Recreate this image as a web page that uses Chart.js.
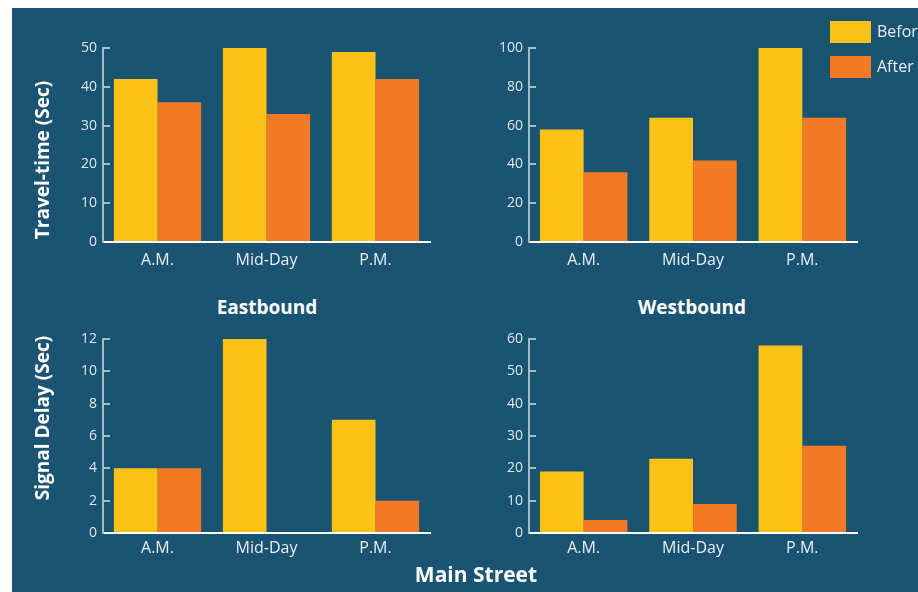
<!DOCTYPE html>
<html>
<head>
<meta charset="utf-8">
<script src="https://cdn.jsdelivr.net/npm/chart.js@4/dist/chart.umd.min.js"></script>
<style>
  html, body { margin: 0; padding: 0; background: #fff; overflow: hidden; }
  body { width: 918px; height: 592px; position: relative; font-family: 'Open Sans', sans-serif; }
  #panel { position: absolute; left: 12px; top: 8px; width: 906px; height: 584px; background: #1a5472; }
  .box { position: absolute; width: 400px; height: 241px; }
  .lbl { position: absolute; color: #fff; font-weight: 700; white-space: nowrap; transform: translate(-50%, -50%); }
  .vert { transform: translate(-50%, -50%) rotate(-90deg); font-size: 19px; }
  .legend-item { position: absolute; left: 830px; height: 22px; white-space: nowrap; line-height: 22px; }
  .legend-item span { display: inline-block; width: 41px; height: 22px; vertical-align: top; }
  .legend-item b { font-weight: 400; color: #e6edf2; font-size: 16px; margin-left: 6px; vertical-align: top; position: relative; top: -1px; }
</style>
</head>
<body>
<div id="panel"></div>

<div class="box" style="left:50px; top:30px;"><canvas id="travelEast"></canvas></div>
<div class="box" style="left:476px; top:30px; width:401px;"><canvas id="travelWest"></canvas></div>
<div class="box" style="left:50px; top:321px;"><canvas id="delayEast"></canvas></div>
<div class="box" style="left:476px; top:321px; width:401px;"><canvas id="delayWest"></canvas></div>

<div class="lbl vert" style="left:42px; top:160px;">Travel-time (Sec)</div>
<div class="lbl vert" style="left:42px; top:418px;">Signal Delay (Sec)</div>
<div class="lbl" style="left:267px; top:307px; font-size:19px;">Eastbound</div>
<div class="lbl" style="left:692px; top:307px; font-size:19px;">Westbound</div>
<div class="lbl" style="left:476px; top:574px; font-size:21px;">Main Street</div>

<div id="legend"></div>

<script>
const periods = ['A.M.', 'Mid-Day', 'P.M.'];
const seriesNames = ['Before', 'After'];
const seriesColors = ['#fdc218', '#f37a25'];

const travelEastBefore = [42, 50, 49];
const travelEastAfter = [36, 33, 42];
const travelWestBefore = [58, 64, 100];
const travelWestAfter = [36, 42, 64];

const delayEastBefore = [4, 12, 7];
const delayEastAfter = [4, 0, 2];
const delayWestBefore = [19, 23, 58];
const delayWestAfter = [4, 9, 27];

Chart.defaults.font.family = "'Open Sans', sans-serif";
Chart.defaults.animation = false;

function makePanel(id, before, after, yMax, yStep, labelPad) {
    return new Chart(document.getElementById(id), {
        type: 'bar',
        data: {
            labels: periods,
            datasets: [before, after].map((vals, i) => ({
                label: seriesNames[i],
                data: vals,
                backgroundColor: seriesColors[i],
                borderWidth: 0,
                minBarLength: i === 1 ? 1 : 0,
                barPercentage: 1.0,
                categoryPercentage: 0.8
            }))
        },
        options: {
            responsive: true,
            maintainAspectRatio: false,
            layout: { padding: { top: 18, right: 20, bottom: 0, left: 0 } },
            plugins: { legend: { display: false }, tooltip: { enabled: false } },
            scales: {
                x: {
                    grid: { display: false, drawTicks: false },
                    border: { color: '#ffffff', width: 2 },
                    ticks: { color: '#e9eff3', font: { size: 16 }, padding: labelPad },
                    afterFit: s => { s.height = 29; s.paddingLeft = 0; s.paddingRight = 0; }
                },
                y: {
                    min: 0,
                    max: yMax,
                    grid: { drawOnChartArea: false, drawTicks: true, tickLength: -7, color: '#a7bccb', lineWidth: 2 },
                    border: { color: '#a7bccb', width: 2 },
                    ticks: { stepSize: yStep, color: '#dde6ec', font: { size: 14 }, padding: 13 },
                    // fixed axis box so every panel lines up
                    afterFit: s => { s.width = 53; s.paddingTop = 0; s.paddingBottom = 0; }
                }
            }
        }
    });
}

makePanel('travelEast', travelEastBefore, travelEastAfter, 50, 10, 9);
makePanel('travelWest', travelWestBefore, travelWestAfter, 100, 20, 9);
makePanel('delayEast', delayEastBefore, delayEastAfter, 12, 2, 6);
makePanel('delayWest', delayWestBefore, delayWestAfter, 60, 10, 6);

// legend in the top right corner
const legend = document.getElementById('legend');
seriesNames.forEach((name, i) => {
    const item = document.createElement('div');
    item.className = 'legend-item';
    item.style.top = (21 + i * 35) + 'px';
    item.innerHTML = '<span style="background:' + seriesColors[i] + '"></span><b>' + name + '</b>';
    legend.appendChild(item);
});
</script>
</body>
</html>
